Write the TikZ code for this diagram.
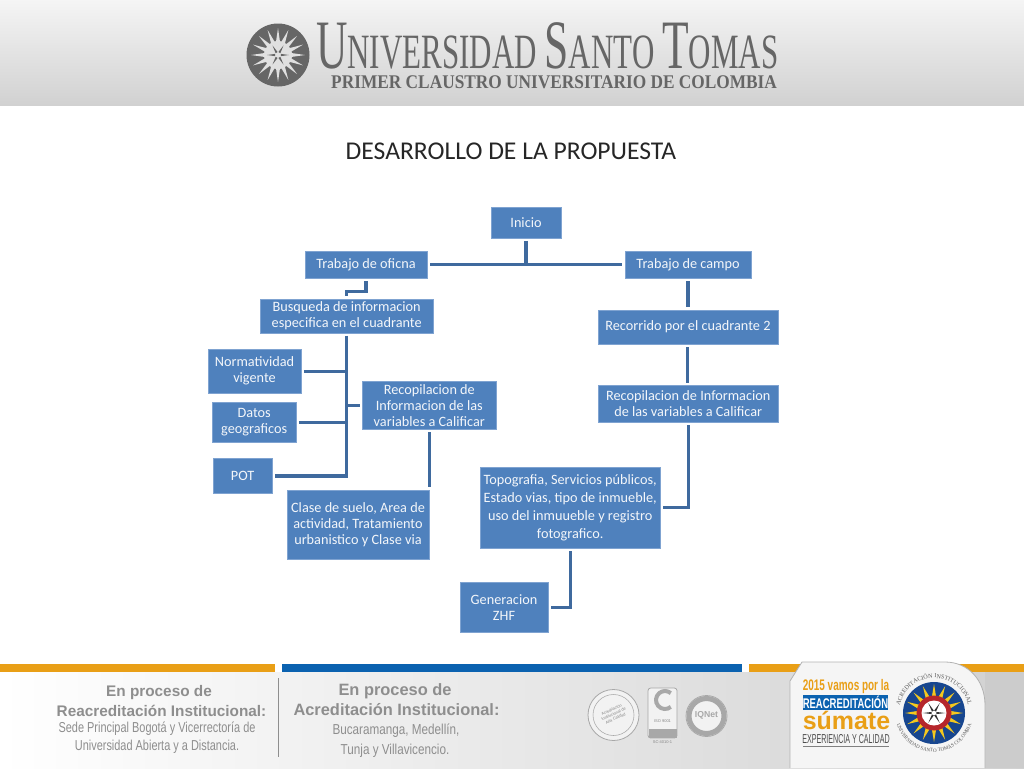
\documentclass[tikz,border=0pt]{standalone}
\usepackage{fontspec}
\setmainfont{Carlito}
\newfontfamily\serifhead{Liberation Serif}
\newfontfamily\arialfoot{Liberation Sans}
\usetikzlibrary{decorations.text}
\definecolor{boxblue}{HTML}{4F81BD}
\definecolor{boxedge}{HTML}{7FA3D1}
\definecolor{linkblue}{HTML}{3F6A9E}
\definecolor{headgrey}{HTML}{666666}
\definecolor{footgrey}{HTML}{8E8E8E}
\definecolor{barorange}{HTML}{E99F16}
\definecolor{barblue}{HTML}{0B62B0}
\definecolor{sealblue}{HTML}{17468F}
\definecolor{sealyellow}{HTML}{F4C81E}
\definecolor{sealred}{HTML}{B5262B}
\definecolor{badgegrey}{HTML}{A8A8A8}
\tikzset{
  bluebox/.style={draw=boxedge, line width=0.3pt, fill=boxblue, text=white!93!boxblue, align=center,
    inner sep=0pt, outer sep=2.25pt, font=\fontsize{10.7}{12}\selectfont},
  link/.style={draw=linkblue, line width=2.3pt},
  footbold/.style={text=footgrey, font=\arialfoot\bfseries\fontsize{11.5}{13}\selectfont, inner sep=0pt},
  footboldb/.style={footbold, font=\arialfoot\bfseries\fontsize{12.3}{13}\selectfont},
  footthin/.style={text=footgrey, font=\arialfoot\fontsize{10.8}{13}\selectfont, inner sep=0pt, transform shape, xscale=0.76},
  footthinb/.style={footthin, xscale=1.07},
  badge/.style={draw=badgegrey, line width=0.6pt, fill=white!85!badgegrey},
  tinymark/.style={text=badgegrey!80!black, inner sep=0pt, font=\arialfoot\fontsize{3}{3.6}\selectfont, align=center}
}

\begin{document}
\begin{tikzpicture}[x=0.75pt, y=-0.75pt]
  \useasboundingbox (0,0) rectangle (1024,768);
  % top band
  \shade[top color=white!96!black, bottom color=white!82!black] (0,0) rectangle (1024,105);
  \fill[headgrey] (278,55) circle (31.5);
  \foreach \ang in {0,22.5,...,337.5}
    \fill[white!88!black, shift={(278,55)}] (\ang-9:13) -- (\ang:27) -- (\ang+9:13) -- cycle;
  \fill[white!88!black] (278,55) circle (14);
  \foreach \ang in {0,60,...,300}
    \fill[headgrey, shift={(278,55)}] (\ang-22:3) -- (\ang:11) -- (\ang+22:3) -- cycle;
  \node[text=headgrey, inner sep=0pt, anchor=base west, transform shape, xscale=0.628, font=\serifhead\fontsize{37}{37}\selectfont] (usta) at (316,68)
    {{\fontsize{52}{52}\selectfont U}NIVERSIDAD {\fontsize{52}{52}\selectfont S}ANTO {\fontsize{52}{52}\selectfont T}OMAS};
  \node[text=headgrey, inner sep=0pt, anchor=base west, transform shape, xscale=0.895, font=\serifhead\bfseries\fontsize{14.5}{15}\selectfont] (claustro) at (331,88)
    {PRIMER CLAUSTRO UNIVERSITARIO DE COLOMBIA};
  \node[inner sep=0pt, text=black!85, font=\fontsize{19.2}{20}\selectfont] (titulo) at (511,151) {DESARROLLO DE LA PROPUESTA};

  % chart
  \node[bluebox, minimum width=52.5, minimum height=23] (inicio) at (526,222.5) {Inicio};
  \node[bluebox, minimum width=91.5, minimum height=20] (oficina) at (366,264.8) {Trabajo de oficna};
  \node[bluebox, minimum width=94.5, minimum height=20] (campo) at (688,264.8) {Trabajo de campo};
  \node[bluebox, minimum width=130, minimum height=25.5] (busqueda) at (346.7,315.7) {Busqueda de informacion\\especifica en el cuadrante};
  \node[bluebox, minimum width=69.5, minimum height=32.5] (norma) at (254.5,371.2) {Normatividad\\vigente};
  \node[bluebox, minimum width=62.5, minimum height=30] (datos) at (254.2,422.5) {Datos\\geograficos};
  \node[bluebox, minimum width=100, minimum height=36] (recopa) at (429.3,405.2) {Recopilacion de\\Informacion de las\\variables a Calificar};
  \node[bluebox, minimum width=44.8, minimum height=26.2] (pot) at (242.6,476) {POT};
  \node[bluebox, minimum width=106.5, minimum height=51.8] (clase) at (358,524.5) {Clase de suelo, Area de\\actividad, Tratamiento\\urbanistico y Clase via};
  \node[bluebox, minimum width=135, minimum height=25.5] (recorrido) at (687.9,327) {Recorrido por el cuadrante 2};
  \node[bluebox, minimum width=135, minimum height=27.5] (recopb) at (688.2,404) {Recopilacion de Informacion\\de las variables a Calificar};
  \node[bluebox, minimum width=134.5, minimum height=60.5, font=\fontsize{10.7}{13.7}\selectfont] (topo) at (570.2,507.8) {Topografia, Servicios públicos,\\Estado vias, tipo de inmueble,\\uso del inmuueble y registro\\fotografico.};
  \node[bluebox, minimum width=66, minimum height=37.5] (genera) at (504,607.3) {Generacion\\ZHF};

  \draw[link] (oficina.east) -- (campo.west);
  \draw[link] (inicio.south) -- (inicio.south |- oficina.east);
  \draw[link] (oficina.south) -- ++(0,10) -| (busqueda.north);
  \draw[link] (busqueda.south) |- (pot.east);
  \draw[link] (norma.east) -- (norma.east -| busqueda.south);
  \draw[link] (datos.east) -- (datos.east -| busqueda.south);
  \draw[link] (recopa.west) -- (recopa.west -| busqueda.south);
  \draw[link] (recopa.south) -- (recopa.south |- clase.north);
  \draw[link] (campo.south) -- (campo.south |- recorrido.north);
  \draw[link] (recorrido.south) -- (recorrido.south |- recopb.north);
  \draw[link] (recopb.south) |- (topo.east);
  \draw[link] (topo.south) |- (genera.east);

  % bottom band
  \shade[left color=white, right color=white!82!black] (0,672) rectangle (1024,768);
  \fill[barorange] (0,663.5) rectangle (275,671.5);
  \fill[barblue] (282,663.5) rectangle (742,671.5);
  \fill[barorange] (748.5,663.5) rectangle (1024,671.5);
  \fill[white!80!black] (985,672) rectangle (1024,768);
  \fill[white!96!black] (790,768) -- (790,681) -- (802,662) -- (945,662) .. controls (968,662) and (985,680) .. (985,705) -- (985,768) -- cycle;
  \draw[white!70!black, line width=0.6pt] (790,768) -- (790,681) -- (802,662) -- (945,662) .. controls (968,662) and (985,680) .. (985,705) -- (985,768);
  \draw[footgrey, line width=0.9pt] (278.5,678) -- (278.5,757);

  \node[footbold] (reacuno) at (159,692.5) {En proceso de};
  \node[footbold] (reacdos) at (161.5,710.5) {Reacreditación Institucional:};
  \node[footthin] (sedeuno) at (157,728.5) {Sede Principal Bogotá y Vicerrectoría de};
  \node[footthin] (sededos) at (157,747) {Universidad Abierta y a Distancia.};
  \node[footboldb] (acreuno) at (395,691) {En proceso de};
  \node[footboldb] (acredos) at (396.5,710) {Acreditación Institucional:};
  \node[footthinb] (ciudaduno) at (396,731) {Bucaramanga, Medellín,};
  \node[footthinb] (ciudaddos) at (395,750.5) {Tunja y Villavicencio.};

  % quality marks
  \draw[badge] (613.5,715) circle (25.5);
  \draw[badgegrey, line width=0.4pt] (613.5,715) circle (20.5);
  \node[tinymark, rotate=25] (altacal) at (613.5,714) {Acreditación\\Institucional de\\Alta Calidad};
  \draw[badge, rounded corners=2pt] (648,688) rectangle (677,738);
  \draw[badgegrey, line width=3pt] (665,700) ++(50:9) arc (50:310:9);
  \node[tinymark] (iso) at (662.5,721) {ISO 9001};
  \fill[badgegrey] (648.5,729) rectangle (676.5,738);
  \node[tinymark] (sc) at (662.5,742) {SC-4010-1};
  \draw[badge] (706.5,716) circle (20.5);
  \draw[badgegrey, line width=3.8pt] (706.5,716) circle (17.5);
  \node[inner sep=0pt, text=badgegrey, font=\arialfoot\bfseries\fontsize{6.5}{7}\selectfont] (iqnet) at (706.5,715.5) {IQNet};

  % campaign
  \node[inner sep=0pt, text=barorange, transform shape, xscale=0.65, font=\arialfoot\bfseries\fontsize{11.5}{12}\selectfont] (vamos) at (846,686.5) {2015 vamos por la};
  \fill[barblue] (803,695) rectangle (888,709.5);
  \node[inner sep=0pt, text=white, transform shape, xscale=0.68, font=\arialfoot\bfseries\fontsize{10.5}{11}\selectfont] (reacr) at (845.5,702.3) {REACREDITACIÓN};
  \node[inner sep=0pt, text=barorange, font=\arialfoot\bfseries\fontsize{18.7}{20}\selectfont] (sumate) at (846.5,720.5) {súmate};
  \node[inner sep=0pt, text=black!70, transform shape, xscale=0.55, font=\arialfoot\fontsize{9.7}{10}\selectfont] (exper) at (846,739.5) {EXPERIENCIA Y CALIDAD};
  \draw[black!50, line width=0.5pt] (803,746.5) -- (889,746.5);

  % seal
  \fill[sealblue] (934,713) circle (31);
  \foreach \ang in {0,22.5,...,337.5}
    \fill[sealyellow, shift={(934,713)}] (\ang-9:15) -- (\ang:29) -- (\ang+9:15) -- cycle;
  \fill[sealred] (934,713) circle (17.5);
  \fill[white] (934,713) circle (12.5);
  \foreach \ang in {0,60,...,300}
    \fill[black!80, shift={(934,713)}] (\ang-25:2.5) -- (\ang:11.5) -- (\ang+25:2.5) -- cycle;
  \path[postaction={decorate, decoration={text along path, text align=center,
      text={|\serifhead\fontsize{4.6}{6}\selectfont\color{black!65}|ACREDITACIÓN INSTITUCIONAL}}}]
    (899,713) arc (180:360:35);
  \path[postaction={decorate, decoration={text along path, text align=center,
      text={|\serifhead\fontsize{3.8}{5}\selectfont\color{black!65}|UNIVERSIDAD SANTO TOMÁS COLOMBIA}}}]
    (895,713) arc (180:0:39);
\end{tikzpicture}
\end{document}
